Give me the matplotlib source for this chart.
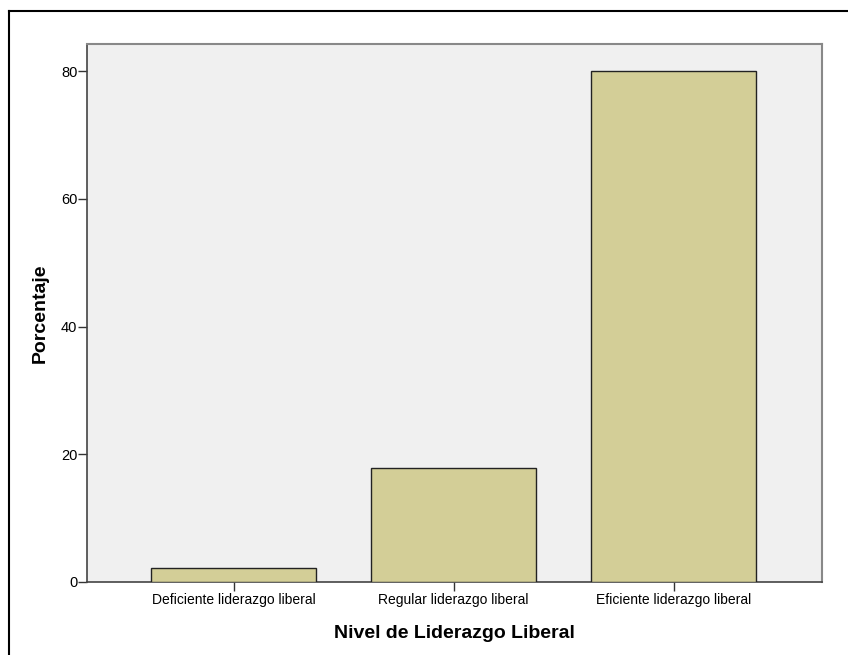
import matplotlib
matplotlib.use("Agg")
import matplotlib.pyplot as plt
from matplotlib.lines import Line2D

categories = ["Deficiente liderazgo liberal", "Regular liderazgo liberal", "Eficiente liderazgo liberal"]
values = [2.2, 17.8, 80.0]
yticks = [0, 20, 40, 60, 80]

plt.rcParams['font.family'] = ['Liberation Sans', 'DejaVu Sans']

W, H = 848, 655
fig = plt.figure(figsize=(W/100, H/100), dpi=100)
ax = fig.add_axes([87/W, 1-581.7/H, (821.7-87)/W, (581.7-44)/H])
ax.set_facecolor('#F0F0F0')

x = list(range(len(categories)))
ax.bar(x, values, width=0.752, color='#D3CE97', edgecolor='#222222', linewidth=1.0, zorder=3)

ax.set_xlim(-0.666, 2.673)
ax.set_ylim(0, 84.3)
ax.set_yticks(yticks)
ax.set_xticks(x)
ax.set_xticklabels(categories, fontsize=10)
ax.tick_params(axis='y', labelsize=10.5, length=6.5, width=1, direction='out', color='#333333', pad=0.5)
ax.tick_params(axis='x', length=6.5, width=1, direction='out', color='#333333', pad=1.5)
for s in ['left', 'bottom']:
    ax.spines[s].set_color('#444444')
    ax.spines[s].set_linewidth(1.2)
for s in ['top', 'right']:
    ax.spines[s].set_color('#888888')
    ax.spines[s].set_linewidth(1.5)

ax.set_xlabel("Nivel de Liderazgo Liberal", fontsize=14, fontweight='bold', labelpad=13)
ax.set_ylabel("Porcentaje", fontsize=14, fontweight='bold', labelpad=9)

# outer border (left and top)
fig.add_artist(Line2D([9/W, 9/W], [0, 1-11/H], transform=fig.transFigure, color='black', linewidth=1.5))
fig.add_artist(Line2D([9/W, 1], [1-11/H, 1-11/H], transform=fig.transFigure, color='black', linewidth=1.5))

fig.savefig("out.png", dpi=100)
